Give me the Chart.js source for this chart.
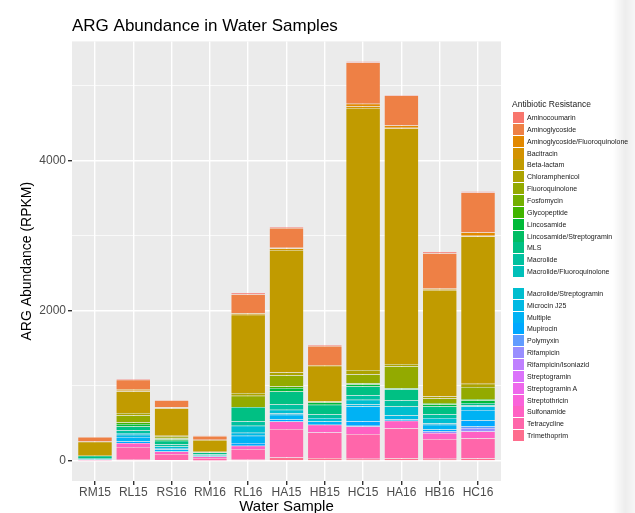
<!DOCTYPE html>
<html>
<head>
<meta charset="utf-8">
<script src="https://cdn.jsdelivr.net/npm/chart.js@4.4.1/dist/chart.umd.min.js"></script>
<style>
  html, body { margin: 0; padding: 0; background: #fff; overflow: hidden; }
  body { width: 635px; height: 513px; position: relative; font-family: "Liberation Sans", Arial, sans-serif; }
  #wrap { position: absolute; left: 0; top: 0; width: 635px; height: 525px; }
  #legend { position: absolute; left: 0; top: 0; color: #1a1a1a; }
  .lg-title { position: absolute; left: 512px; font-size: 8.5px; white-space: nowrap; line-height: 10px; }
  .lg-item { position: absolute; left: 513px; height: 12px; display: flex; align-items: center; white-space: nowrap; font-size: 7px; }
  .lg-key { width: 11px; height: 11px; margin-right: 3px; }
  .shade { position: absolute; right: 0; top: 0; width: 22px; height: 513px;
           background: linear-gradient(to right, rgba(0,0,0,0), rgba(0,0,0,0.07) 55%, rgba(0,0,0,0.035)); }
</style>
</head>
<body>
<div id="wrap"><canvas id="argChart" width="635" height="525"></canvas></div>
<div id="legend"></div>
<div class="shade"></div>
<script>
// muestras (eje x)
const samples = ['RM15', 'RL15', 'RS16', 'RM16', 'RL16', 'HA15', 'HB15', 'HC15', 'HA16', 'HB16', 'HC16'];

// clases de resistencia, en el orden de la leyenda
const classes = [
    'Aminocoumarin', 'Aminoglycoside', 'Aminoglycoside/Fluoroquinolone', 'Bacitracin', 'Beta-lactam',
    'Chloramphenicol', 'Fluoroquinolone', 'Fosfomycin', 'Glycopeptide', 'Lincosamide',
    'Lincosamide/Streptogramin', 'MLS', 'Macrolide', 'Macrolide/Fluoroquinolone',
    'Macrolide/Streptogramin', 'Microcin J25', 'Multiple', 'Mupirocin', 'Polymyxin', 'Rifampicin',
    'Rifampicin/Isoniazid', 'Streptogramin', 'Streptogramin A', 'Streptothricin', 'Sulfonamide',
    'Tetracycline', 'Trimethoprim'
];

// RPKM por clase, una posición por muestra
const aminocoumarin     = [4, 10, 5, 3, 20, 15, 15, 15, 12, 20, 15];
const aminoglycoside    = [58, 126, 92, 50, 254, 264, 250, 550, 400, 466, 533];
const aminoglycosideFq  = [5, 10, 5, 5, 0, 10, 10, 35, 30, 10, 44];
const bacitracin        = [0, 19, 10, 0, 20, 20, 0, 20, 10, 10, 10];
const betaLactam        = [185, 290, 365, 156, 1041, 1629, 477, 3484, 3134, 1418, 1959];
const chloramphenicol   = [0, 30, 12, 0, 36, 36, 0, 57, 30, 28, 43];
const fluoroquinolone   = [0, 95, 25, 8, 150, 150, 0, 120, 290, 60, 160];
const fosfomycin        = [0, 0, 10, 0, 0, 0, 0, 0, 0, 0, 0];
const glycopeptide      = [0, 20, 0, 0, 0, 20, 14, 15, 0, 15, 15];
const lincosamide       = [0, 33, 20, 0, 0, 46, 30, 30, 14, 30, 38];
const lincosamideStrep  = [0, 0, 0, 0, 0, 0, 0, 0, 0, 0, 0];
const mls               = [30, 50, 45, 25, 189, 173, 126, 116, 150, 104, 30];
const macrolide         = [13, 35, 30, 10, 60, 70, 50, 60, 80, 50, 0];
const macrolideFq       = [0, 0, 0, 0, 0, 0, 0, 0, 0, 0, 0];
const macrolideStrep    = [7, 25, 22, 8, 92, 47, 45, 59, 120, 69, 15];
const microcinJ25       = [0, 30, 15, 0, 40, 20, 0, 30, 50, 20, 46];
const multiple          = [8, 60, 30, 10, 98, 58, 44, 196, 20, 59, 140];
const mupirocin         = [0, 20, 0, 0, 35, 30, 0, 60, 0, 30, 80];
const polymyxin         = [0, 0, 0, 0, 0, 0, 0, 10, 0, 0, 20];
const rifampicin        = [0, 0, 0, 0, 0, 0, 0, 0, 0, 22, 46];
const rifampicinIso     = [0, 0, 0, 0, 0, 0, 0, 0, 0, 0, 0];
const streptogramin     = [0, 0, 0, 0, 0, 0, 0, 0, 0, 0, 0];
const streptograminA    = [0, 0, 0, 0, 0, 0, 0, 0, 0, 0, 0];
const streptothricin    = [0, 0, 0, 0, 0, 0, 0, 0, 0, 0, 0];
const sulfonamide       = [4, 54, 35, 20, 44, 100, 102, 99, 100, 80, 90];
const tetracycline      = [6, 170, 80, 35, 142, 380, 340, 330, 400, 260, 270];
const trimethoprim      = [2, 15, 12, 6, 17, 46, 40, 30, 35, 31, 33];

const classValues = [
    aminocoumarin, aminoglycoside, aminoglycosideFq, bacitracin, betaLactam,
    chloramphenicol, fluoroquinolone, fosfomycin, glycopeptide, lincosamide,
    lincosamideStrep, mls, macrolide, macrolideFq,
    macrolideStrep, microcinJ25, multiple, mupirocin, polymyxin, rifampicin,
    rifampicinIso, streptogramin, streptograminA, streptothricin, sulfonamide,
    tetracycline, trimethoprim
];

const yTicks = [0, 1000, 2000, 3000, 4000, 5000];

// paleta tipo ggplot (hcl con c=100, l=65)
function hcl(h, c, l) {
    const hr = h * Math.PI / 180;
    const u = c * Math.cos(hr), v = c * Math.sin(hr);
    const un = 0.1978398, vn = 0.4683363;
    const Y = 100 * Math.pow((l + 16) / 116, 3);
    const up = u / (13 * l) + un, vp = v / (13 * l) + vn;
    const X = 9 * Y * up / (4 * vp);
    const Z = Y * (12 - 3 * up - 20 * vp) / (4 * vp);
    const x = X / 100, y = Y / 100, z = Z / 100;
    const lin = [
        3.240479 * x - 1.537150 * y - 0.498535 * z,
        -0.969256 * x + 1.875992 * y + 0.041556 * z,
        0.055648 * x - 0.204043 * y + 1.057311 * z
    ];
    const rgb = lin.map(ch => {
        const g = ch <= 0.0031308 ? 12.92 * ch : 1.055 * Math.pow(ch, 1 / 2.4) - 0.055;
        return Math.round(Math.min(1, Math.max(0, g)) * 255);
    });
    return 'rgb(' + rgb.join(',') + ')';
}
const hueStep = 360 / classes.length;
const colours = classes.map((_, i) => hcl((15 + i * hueStep) % 360, 100, 65));

// leyenda en HTML
const legendEl = document.getElementById('legend');
const lgTitle = document.createElement('div');
lgTitle.className = 'lg-title';
lgTitle.style.top = '99px';
lgTitle.textContent = 'Antibiotic Resistance';
legendEl.appendChild(lgTitle);
classes.forEach((name, i) => {
    const centre = 117.5 + i * 11.85 + (i >= 14 ? 10 : 0);
    const item = document.createElement('div');
    item.className = 'lg-item';
    item.style.top = (centre - 6) + 'px';
    const key = document.createElement('span');
    key.className = 'lg-key';
    key.style.background = colours[i];
    const txt = document.createElement('span');
    txt.textContent = name;
    item.appendChild(key);
    item.appendChild(txt);
    legendEl.appendChild(item);
});

// fondo gris del panel
const panelBg = {
    id: 'panelBg',
    beforeDraw(chart) {
        const { ctx, chartArea: a } = chart;
        ctx.save();
        ctx.fillStyle = '#EBEBEB';
        ctx.fillRect(a.left, a.top, a.right - a.left, a.bottom - a.top);
        ctx.restore();
    }
};

Chart.defaults.font.family = '"Liberation Sans", Arial, sans-serif';

// la primera clase va arriba de la pila, como en ggplot
const datasets = classes.map((name, i) => ({
    label: name,
    data: classValues[i].map((v, j) => ({ x: j + 1, y: v === 0 ? null : v })),
    backgroundColor: colours[i],
    borderColor: 'rgba(255,255,255,0.3)',
    borderWidth: 0.5,
    barPercentage: 0.9,
    categoryPercentage: 1.0
})).reverse();

new Chart(document.getElementById('argChart'), {
    type: 'bar',
    data: { datasets: datasets },
    plugins: [panelBg],
    options: {
        responsive: false,
        animation: false,
        devicePixelRatio: 1,
        layout: { padding: { left: 0, right: 134, top: 0, bottom: 0 } },
        plugins: {
            legend: { display: false },
            tooltip: { enabled: false },
            title: {
                display: true,
                text: 'ARG Abundance in Water Samples',
                align: 'start',
                fullSize: false,
                color: '#000',
                font: { size: 17, weight: 'normal' },
                padding: { top: 16, bottom: 5 }
            }
        },
        scales: {
            x: {
                type: 'linear',
                stacked: true,
                offset: false,
                min: 0.4,
                max: 11.6,
                afterBuildTicks: s => { s.ticks = samples.map((_, i) => ({ value: i + 1 })); },
                afterFit: s => { s.height = 44; },
                ticks: {
                    callback: v => samples[v - 1],
                    color: '#4D4D4D',
                    font: { size: 12 },
                    padding: 0,
                    autoSkip: false,
                    maxRotation: 0
                },
                grid: { offset: false, color: '#fff', lineWidth: 1.4, tickColor: '#333', tickLength: 4 },
                border: { display: false },
                title: {
                    display: true,
                    text: 'Water Sample',
                    color: '#000',
                    font: { size: 15 },
                    padding: { top: 0, bottom: 9 }
                }
            },
            y: {
                stacked: true,
                min: -266,
                max: 5581,
                afterBuildTicks: s => { s.ticks = yTicks.map(v => ({ value: v })); },
                afterFit: s => { s.width = 72; },
                ticks: {
                    callback: v => (v % 2000 === 0 ? String(v) : ''),
                    color: '#4D4D4D',
                    font: { size: 12 },
                    padding: 2
                },
                grid: {
                    color: '#fff',
                    lineWidth: c => (c.tick && c.tick.value % 2000 === 0 ? 1.4 : 0.7),
                    tickColor: c => (c.tick && c.tick.value % 2000 === 0 ? '#333' : 'rgba(0,0,0,0)'),
                    tickLength: 4
                },
                border: { display: false },
                title: {
                    display: true,
                    text: 'ARG Abundance (RPKM)',
                    color: '#000',
                    font: { size: 14 },
                    padding: { top: 19, bottom: 0 }
                }
            }
        }
    }
});
</script>
</body>
</html>
